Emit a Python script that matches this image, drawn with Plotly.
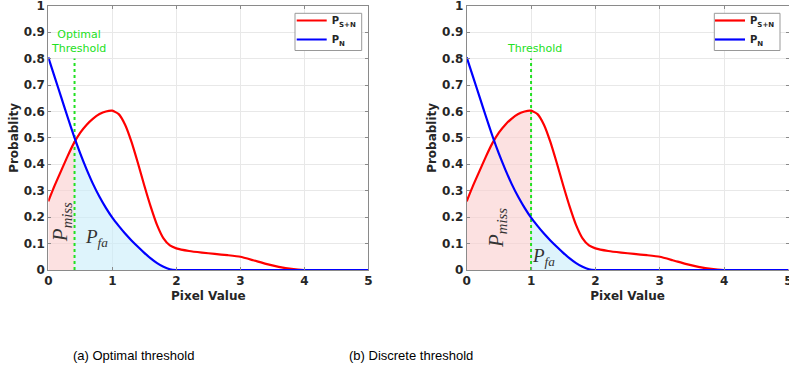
import numpy as np
import plotly.graph_objects as go

# ---- data ----
pixel = [0.0, 0.1, 0.2, 0.3, 0.4, 0.5, 0.6, 0.7, 0.8, 0.9, 1.0, 1.1, 1.2, 1.3, 1.4,
         1.5, 1.6, 1.7, 1.8, 1.9, 2.0, 2.2, 2.4, 2.6, 2.8, 3.0, 3.2, 3.4, 3.6, 3.8,
         4.0, 4.5, 5.0]
p_sn = [0.26, 0.32, 0.375, 0.43, 0.48, 0.52, 0.55, 0.573, 0.59, 0.60, 0.603, 0.59,
        0.55, 0.485, 0.405, 0.32, 0.24, 0.17, 0.12, 0.093, 0.082, 0.072, 0.066, 0.061,
        0.056, 0.05, 0.037, 0.023, 0.012, 0.004, 0.0, 0.0, 0.0]
p_n = [0.805, 0.73, 0.655, 0.58, 0.507, 0.44, 0.38, 0.325, 0.277, 0.235, 0.198, 0.167,
       0.138, 0.112, 0.088, 0.065, 0.044, 0.026, 0.012, 0.003, 0.0, 0.0, 0.0, 0.0,
       0.0, 0.0, 0.0, 0.0, 0.0, 0.0, 0.0, 0.0, 0.0]
thresholds = [0.41, 1.0]
threshold_labels = ["Optimal<br>Threshold", "Threshold"]
captions = ["(a) Optimal threshold", "(b) Discrete threshold"]
legend_names = ["<b>P<sub>S+N</sub></b>", "<b>P<sub>N</sub></b>"]
x_ticks = [0, 1, 2, 3, 4, 5]
y_ticks = [0, 0.1, 0.2, 0.3, 0.4, 0.5, 0.6, 0.7, 0.8, 0.9, 1]
y_tick_labels = ["0", "0.1", "0.2", "0.3", "0.4", "0.5", "0.6", "0.7", "0.8", "0.9", "1"]

px = np.array(pixel)
ps = np.array(p_sn)
pn = np.array(p_n)

RED = "#ff0000"
BLUE = "#0000ff"
GREEN = "#22e022"
PINK = "rgba(250,205,205,0.6)"
LBLUE = "rgba(200,236,250,0.6)"

W, H = 789, 375


def fx(p):
    return p / W


def fy(p):
    return 1 - p / H


fig = go.Figure()

doms = [[fx(48.3), fx(368.3)], [fx(466.7), fx(788.5)]]
ydom = [fy(270), fy(5.7)]
legend_box_x = [(295.0, 361.7), (714.3, 780.0)]
legend_box_y = (13.3, 50.5)
caption_x = [fx(133.7), fx(411)]

miss_pos = [(0.21, 0.18), (0.46, 0.16)]
fa_pos = [(0.76, 0.12), (1.2, 0.05)]
thr_text_pos = [(0.47, 0.865), (1.05, 0.838)]

annotations = []
shapes = []

for i, t in enumerate(thresholds):
    xa = "x" if i == 0 else "x2"
    ya = "y" if i == 0 else "y2"
    lg = "legend" if i == 0 else "legend2"

    # miss region: under red from 0 to threshold
    m = px < t
    xm = np.concatenate([px[m], [t]])
    ym = np.concatenate([ps[m], [np.interp(t, px, ps)]])
    fig.add_trace(go.Scatter(x=np.concatenate([[0], xm, [t]]),
                             y=np.concatenate([[0], ym, [0]]),
                             fill="toself", fillcolor=PINK, line=dict(width=0),
                             mode="lines", showlegend=False, hoverinfo="skip",
                             xaxis=xa, yaxis=ya))
    # false alarm region: under blue from threshold on
    f = px > t
    xf = np.concatenate([[t], px[f]])
    yf = np.concatenate([[np.interp(t, px, pn)], pn[f]])
    fig.add_trace(go.Scatter(x=np.concatenate([[t], xf, [px[-1]]]),
                             y=np.concatenate([[0], yf, [0]]),
                             fill="toself", fillcolor=LBLUE, line=dict(width=0),
                             mode="lines", showlegend=False, hoverinfo="skip",
                             xaxis=xa, yaxis=ya))
    # threshold line
    fig.add_trace(go.Scatter(x=[t, t], y=[0, 0.8], mode="lines",
                             line=dict(color=GREEN, width=2, dash="dot"),
                             showlegend=False, hoverinfo="skip", xaxis=xa, yaxis=ya))
    fig.add_trace(go.Scatter(x=pixel, y=p_sn, mode="lines", name=legend_names[0],
                             line=dict(color=RED, width=2.2, shape="spline", smoothing=0.5),
                             xaxis=xa, yaxis=ya, legend=lg))
    fig.add_trace(go.Scatter(x=pixel, y=p_n, mode="lines", name=legend_names[1],
                             line=dict(color=BLUE, width=2.2, shape="spline", smoothing=0.5),
                             xaxis=xa, yaxis=ya, legend=lg))

    annotations.append(dict(x=thr_text_pos[i][0], y=thr_text_pos[i][1], xref=xa, yref=ya,
                            text=threshold_labels[i], showarrow=False,
                            font=dict(family="DejaVu Sans", size=11, color=GREEN)))
    annotations.append(dict(x=miss_pos[i][0], y=miss_pos[i][1], xref=xa, yref=ya,
                            text="<i>P</i><sub><i>miss</i></sub>", showarrow=False,
                            textangle=-90,
                            font=dict(family="Liberation Serif", size=21, color="#333333")))
    annotations.append(dict(x=fa_pos[i][0], y=fa_pos[i][1], xref=xa, yref=ya,
                            text="<i>P</i><sub><i>fa</i></sub>", showarrow=False,
                            font=dict(family="Liberation Serif", size=19, color="#333333")))
    annotations.append(dict(x=caption_x[i], y=fy(355), xref="paper", yref="paper",
                            xanchor="center", yanchor="middle",
                            text=captions[i], showarrow=False,
                            font=dict(family="Liberation Sans", size=13, color="#000000")))
    # legend frame (white box with grey border) drawn above the plot
    shapes.append(dict(type="rect", xref="paper", yref="paper", layer="above",
                       x0=fx(legend_box_x[i][0]), x1=fx(legend_box_x[i][1]),
                       y0=fy(legend_box_y[1]), y1=fy(legend_box_y[0]),
                       fillcolor="white", line=dict(color="#999999", width=1)))

axis_common = dict(showgrid=True, gridcolor="#e8e8e8", gridwidth=1, automargin=False,
                   showline=True, linecolor="#8a8a8a", linewidth=1, mirror="allticks",
                   ticks="inside", ticklen=3, tickcolor="#8a8a8a", zeroline=False,
                   ticklabeloverflow="allow",
                   tickfont=dict(family="DejaVu Sans", size=12, color="#262626", weight="bold"))

xt = dict(title=dict(text="<b>Pixel Value</b>", standoff=4,
                     font=dict(family="DejaVu Sans", size=12, color="#262626")),
          range=[0, 5], tickmode="array", tickvals=x_ticks, **axis_common)
yt = dict(title=dict(text="<b>Probablity</b>", standoff=2,
                     font=dict(family="DejaVu Sans", size=12, color="#262626")),
          range=[0, 1.0001], tickmode="array", tickvals=y_ticks, ticktext=y_tick_labels,
          **axis_common)

legend_style = dict(bgcolor="rgba(0,0,0,0)", borderwidth=0,
                    font=dict(family="DejaVu Sans", size=10, color="#262626"),
                    xanchor="right", yanchor="top", y=fy(6.0),
                    tracegroupgap=0, itemwidth=30)

fig.update_layout(
    width=W, height=H,
    margin=dict(l=0, r=0, t=0, b=0, autoexpand=False),
    paper_bgcolor="white", plot_bgcolor="white",
    xaxis=dict(domain=doms[0], anchor="y", **xt),
    yaxis=dict(domain=ydom, anchor="x", **yt),
    xaxis2=dict(domain=doms[1], anchor="y2", **xt),
    yaxis2=dict(domain=ydom, anchor="x2", **yt),
    legend=dict(x=fx(legend_box_x[0][1]), **legend_style),
    legend2=dict(x=fx(legend_box_x[1][1]), **legend_style),
    annotations=annotations,
    shapes=shapes,
    showlegend=True,
)

fig.write_html("out.html",
               config={"displayModeBar": False},
               post_script="document.body.style.margin='0px';"
                           "document.body.style.overflow='hidden';")
